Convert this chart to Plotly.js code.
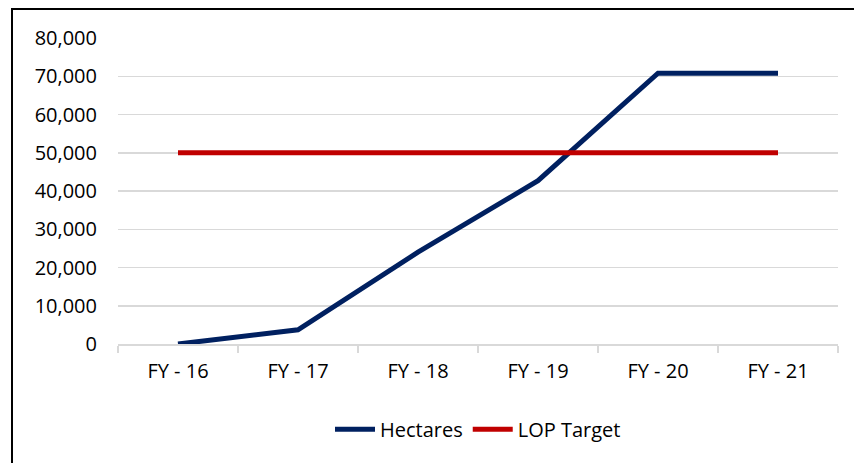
<!DOCTYPE html>
<html>
<head>
<meta charset="utf-8">
<script src="https://cdn.plot.ly/plotly-3.0.1.min.js"></script>
<style>
  html, body { margin: 0; padding: 0; background: #fff; overflow: hidden; }
  #chart { width: 857px; height: 463px; position: absolute; left: 0; top: 0; }
  #frame { position: absolute; left: 11px; top: 8px; width: 841px; height: 470px;
           border-top: 2px solid #000; border-left: 2px solid #000; pointer-events: none; }
</style>
</head>
<body>
<div id="chart"></div>
<div id="frame"></div>
<script>
const categories = ["FY - 16", "FY - 17", "FY - 18", "FY - 19", "FY - 20", "FY - 21"];
const hectares = [0, 3700, 24000, 42700, 70800, 70800];
const lopTarget = [50000, 50000, 50000, 50000, 50000, 50000];
const yTickVals = [0, 10000, 20000, 30000, 40000, 50000, 60000, 70000, 80000];
const yTickText = ["0", "10,000", "20,000", "30,000", "40,000", "50,000", "60,000", "70,000", "80,000"];

const FONT = '"Open Sans", "Noto Sans", sans-serif';

const traces = [
  { x: categories, y: hectares, name: "Hectares", type: "scatter", mode: "lines",
    line: { color: "#002060", width: 5 } },
  { x: categories, y: lopTarget, name: "LOP Target", type: "scatter", mode: "lines",
    line: { color: "#C00000", width: 5 } }
];

const layout = {
  width: 857, height: 463,
  margin: { l: 118, r: 19, t: 38, b: 119 },
  paper_bgcolor: "#fff", plot_bgcolor: "#fff",
  font: { family: FONT, size: 20, color: "#000" },
  showlegend: true,
  legend: { orientation: "h", x: 0.5, xanchor: "center", xref: "paper",
            y: -0.215, yanchor: "top", font: { family: FONT, size: 20, color: "#000" },
            itemwidth: 40, tracegroupgap: 0 },
  xaxis: { type: "category", range: [-0.5, 5.5], tickson: "boundaries",
           ticks: "outside", ticklen: 7, tickcolor: "#d9d9d9", tickwidth: 1.5,
           showline: true, linecolor: "#d9d9d9", linewidth: 1.5,
           showgrid: false, zeroline: false, fixedrange: true, ticklabelstandoff: 8 },
  yaxis: { range: [0, 80000], tickvals: yTickVals, ticktext: yTickText,
           showgrid: true, gridcolor: "#d9d9d9", gridwidth: 1.5,
           zeroline: false, showline: false, ticks: "", ticklabelstandoff: 20,
           fixedrange: true }
};

Plotly.newPlot("chart", traces, layout, { displayModeBar: false, staticPlot: true });
</script>
</body>
</html>
